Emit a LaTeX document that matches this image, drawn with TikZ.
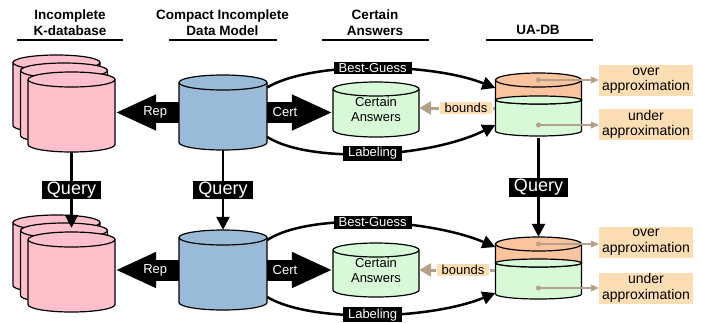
\documentclass[tikz,border=0pt]{standalone}
\usepackage{fontspec}
\setmainfont{Liberation Sans}
\usetikzlibrary{arrows.meta}

\definecolor{dbpink}{HTML}{FEC1CC}
\definecolor{dbblue}{HTML}{99BBD7}
\definecolor{dbgreen}{HTML}{D8F9D8}
\definecolor{dborange}{HTML}{FBC39E}
\definecolor{tanbox}{HTML}{FDDDB3}
\definecolor{tanline}{HTML}{B5A08A}

% cylinder: name, x, y of top rim, body height, rx, ry, fill, text
\newcommand{\dbcyl}[8]{%
  \begin{scope}[shift={(#2,-#3)}]
    \filldraw[cyl,fill=#7] (-#5,0) -- (-#5,-#4)
      arc[start angle=180,end angle=360,x radius=#5,y radius=#6] -- (#5,0)
      arc[start angle=0,end angle=180,x radius=#5,y radius=#6] -- cycle;
    \draw[cyl] (-#5,0) arc[start angle=180,end angle=360,x radius=#5,y radius=#6];
    \node[inner sep=0,minimum width=2*#5,minimum height=#4+2*#6,align=center,
      font=\fontsize{13}{15}\selectfont] (#1) at (0,-#4/2) {#8};
  \end{scope}}

% two-part UA-DB cylinder: name, x, y of top rim, divider depth, body height
\newcommand{\uadb}[5]{%
  \begin{scope}[shift={(#2,-#3)}]
    \filldraw[cyl,fill=dbgreen] (-43,-#4) -- (-43,-#5)
      arc[start angle=180,end angle=360,x radius=43,y radius=5] -- (43,-#4) -- cycle;
    \filldraw[cyl,fill=dborange] (-43,0) -- (-43,-#4)
      arc[start angle=180,end angle=360,x radius=43,y radius=4] -- (43,0) -- cycle;
    \filldraw[cyl,fill=dbgreen] (0,-#4) ellipse[x radius=43,y radius=4];
    \filldraw[cyl,fill=dborange] (0,0) ellipse[x radius=43,y radius=7];
    \node[inner sep=0,minimum width=86,minimum height=#5+14] (#1) at (0,-#5/2) {};
    \coordinate (#1-over) at (0,0);
    \coordinate (#1-under) at (0,-#4-25);
  \end{scope}}

\begin{document}
\begin{tikzpicture}[x=1pt,y=1pt,
    cyl/.style={line width=1.2pt},
    head/.style={font=\fontsize{13.5}{16}\selectfont\bfseries,align=center},
    rule/.style={line width=1.6pt},
    tag/.style={fill=black,text=white,font=\fontsize{13}{15}\selectfont,inner xsep=5pt,inner ysep=1.5pt},
    query/.style={fill=black,text=white,font=\fontsize{18}{20}\selectfont,inner xsep=5pt,inner ysep=1pt},
    tanlabel/.style={fill=tanbox,font=\fontsize{13}{15}\selectfont,inner xsep=5pt,inner ysep=1.5pt,align=center},
    approx/.style={tanlabel,font=\fontsize{14}{15.5}\selectfont,minimum width=94,minimum height=31,inner xsep=2pt,inner ysep=1pt},
    flow/.style={line width=2.5pt,-{Triangle[length=13pt,width=13pt]}},
    bigarrow/.style={line width=21pt,-{Triangle[length=41pt,width=33pt]}},
    bnd/.style={tanline,line width=3pt},
    pointer/.style={tanline,line width=1.2pt,-{Triangle[length=8pt,width=7pt]}}]
  \useasboundingbox (0,0) rectangle (701,-322);

  % headers
  \node[head] (hK) at (70,-23) {Incomplete\\K-database};
  \node[head] (hC) at (222.5,-23) {Compact Incomplete\\Data Model};
  \node[head] (hA) at (375,-23) {Certain\\Answers};
  \node[head] (hU) at (538,-30) {UA-DB};
  \draw[rule] (17,-40) -- (123,-40);
  \draw[rule] (169,-40) -- (277,-40);
  \draw[rule] (322,-40) -- (429,-40);
  \draw[rule] (486,-40) -- (593,-40);

  % top row
  \dbcyl{pA3}{56.5}{62.5}{63}{43.5}{7.5}{dbpink}{}
  \dbcyl{pA2}{64}{70.5}{65}{43.5}{7.5}{dbpink}{}
  \dbcyl{pA1}{71.5}{79.5}{65}{43.5}{7.5}{dbpink}{}
  \dbcyl{bA}{223}{82.5}{60}{44}{7.5}{dbblue}{}
  \dbcyl{cA}{376}{89}{41}{43}{7}{dbgreen}{Certain\\Answers}
  \uadb{uA}{538.5}{80}{20}{51}

  % bottom row
  \dbcyl{pB3}{56.5}{222.5}{63}{43.5}{7.5}{dbpink}{}
  \dbcyl{pB2}{64}{230.5}{65}{43.5}{7.5}{dbpink}{}
  \dbcyl{pB1}{71.5}{239.5}{65}{43.5}{7.5}{dbpink}{}
  \dbcyl{bB}{223}{237.5}{65}{44}{7.5}{dbblue}{}
  \dbcyl{cB}{376}{250}{40}{43}{7}{dbgreen}{Certain\\Answers}
  \uadb{uB}{538.5}{244}{19}{50}

  % Rep and Cert
  \draw[bigarrow] (bA.west) -- (bA.west -| pA1.east) node[pos=0.37,text=white,font=\fontsize{13}{15}\selectfont]{Rep};
  \draw[bigarrow] (bA.east) -- (bA.east -| cA.west) node[pos=0.27,text=white,font=\fontsize{13}{15}\selectfont]{Cert};
  \draw[bigarrow] (bB.west) -- (bB.west -| pB1.east) node[pos=0.37,text=white,font=\fontsize{13}{15}\selectfont]{Rep};
  \draw[bigarrow] (bB.east) -- (bB.east -| cB.west) node[pos=0.27,text=white,font=\fontsize{13}{15}\selectfont]{Cert};

  % Best-Guess and Labeling
  \draw[flow] ([yshift=25]bA.east) .. controls +(43,26) and +(-66,26) .. ([yshift=17.5]uA.west)
    node[pos=0.5,tag]{Best-Guess};
  \draw[flow] ([yshift=-24.5]bA.east) .. controls +(43,-27) and +(-66,-33) .. ([yshift=-19.5]uA.west)
    node[pos=0.5,tag]{Labeling};
  \draw[flow] ([yshift=30]bB.east) .. controls +(43,28) and +(-66,28) .. ([yshift=22]uB.west)
    node[pos=0.5,tag]{Best-Guess};
  \draw[flow] ([yshift=-27]bB.east) .. controls +(43,-26) and +(-66,-27) .. ([yshift=-24]uB.west)
    node[pos=0.5,tag]{Labeling};

  % Query
  \draw[flow] (pA1.south) -- ([yshift=-5]pA1.south |- pB2.north) node[midway,query]{Query};
  \draw[flow] (bA.south) -- (bB.north) node[midway,query]{Query};
  \draw[flow] (uA.south) -- (uB.north) node[midway,query]{Query};

  % bounds
  \node[tanlabel] (dA) at (466,-108) {bounds};
  \node[tanlabel] (dB) at (463,-270) {bounds};
  \draw[bnd] (dA -| uA.west) -- (dA.east);
  \draw[bnd,-{Triangle[length=12pt,width=13pt]}] (dA.west) -- (dA -| cA.east);
  \draw[bnd] (dB -| uB.west) -- (dB.east);
  \draw[bnd,-{Triangle[length=12pt,width=13pt]}] (dB.west) -- (dB -| cB.east);

  % over / under approximation
  \node[approx] (oA) at (646,-80.5) {over\\approximation};
  \node[approx] (nA) at (646,-124.5) {under\\approximation};
  \node[approx] (oB) at (646,-242) {over\\approximation};
  \node[approx] (nB) at (646,-288) {under\\approximation};
  \foreach \u/\o in {uA-over/oA,uA-under/nA,uB-over/oB,uB-under/nB} {
    \fill[tanline] (\u) circle (2.5);
    \draw[pointer] (\u) -- (\u -| \o.west);
  }
\end{tikzpicture}
\end{document}
